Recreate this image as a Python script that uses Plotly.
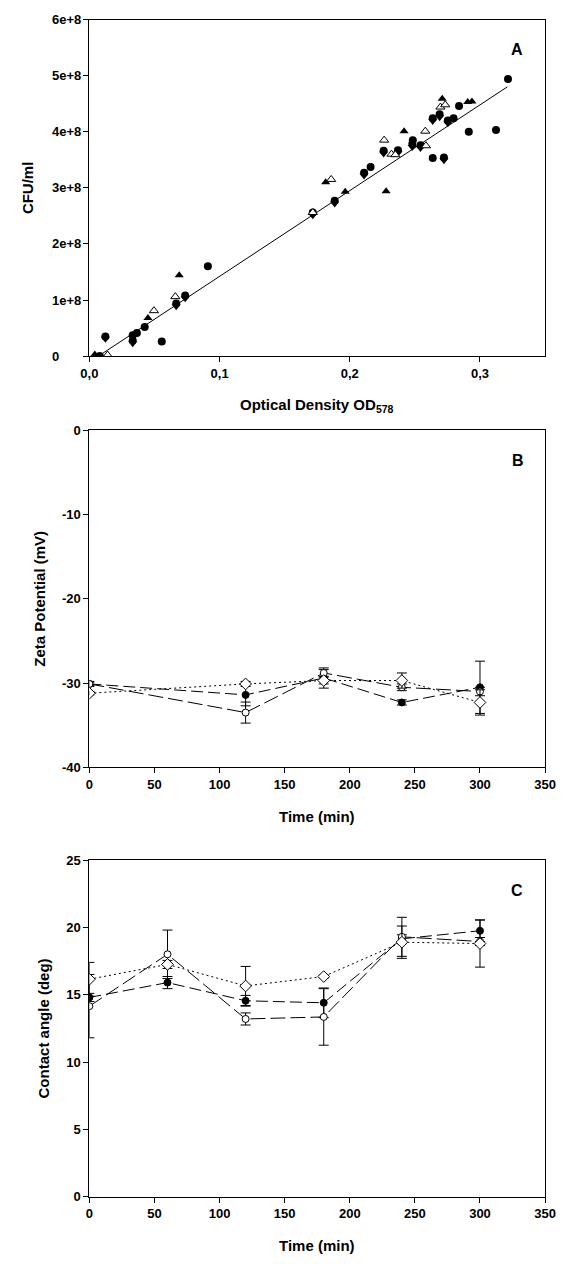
import plotly.graph_objects as go

# ---------------- Panel A: CFU/ml vs optical density ----------------
circ_x = [0.008, 0.0333, 0.0365, 0.0425, 0.0556, 0.091, 0.216, 0.2484, 0.2637,
          0.2797, 0.2839, 0.2914, 0.3123, 0.3215,
          0.0123, 0.0333, 0.0667, 0.0736, 0.1716, 0.1884, 0.211, 0.226, 0.237,
          0.248, 0.2543, 0.2637, 0.269, 0.2723, 0.2753]
circ_y = [0.0, 0.37e8, 0.41e8, 0.52e8, 0.26e8, 1.60e8, 3.37e8, 3.85e8, 3.53e8,
          4.24e8, 4.46e8, 4.00e8, 4.03e8, 4.94e8,
          0.35e8, 0.28e8, 0.94e8, 1.08e8, 2.56e8, 2.77e8, 3.27e8, 3.66e8, 3.67e8,
          3.78e8, 3.76e8, 4.24e8, 4.31e8, 3.54e8, 4.20e8]

tdown_x = [0.0123, 0.0333, 0.0667, 0.0736, 0.1716, 0.1884, 0.211, 0.226, 0.237,
           0.248, 0.2543, 0.2637, 0.269, 0.2723, 0.2753]
tdown_y = [0.31e8, 0.23e8, 0.89e8, 1.03e8, 2.51e8, 2.72e8, 3.22e8, 3.61e8, 3.62e8,
           3.73e8, 3.71e8, 4.19e8, 4.26e8, 3.49e8, 4.15e8]

tup_x = [0.0042, 0.045, 0.069, 0.1815, 0.1965, 0.2279, 0.2417, 0.271, 0.2906, 0.2938]
tup_y = [0.03e8, 0.68e8, 1.44e8, 3.10e8, 2.93e8, 2.94e8, 4.01e8, 4.59e8, 4.53e8, 4.54e8]

topen_x = [0.014, 0.0496, 0.066, 0.1716, 0.1857, 0.2264, 0.232, 0.235, 0.258,
           0.2585, 0.2696, 0.2733]
topen_y = [0.02e8, 0.81e8, 1.06e8, 2.56e8, 3.15e8, 3.85e8, 3.60e8, 3.59e8, 4.01e8,
           3.75e8, 4.44e8, 4.48e8]

fit_x = [0.007, 0.321]
fit_y = [0.0, 4.80e8]

od_ticks = [0, 0.1, 0.2, 0.3]
od_ticktext = ["0,0", "0,1", "0,2", "0,3"]
cfu_ticks = [0, 1e8, 2e8, 3e8, 4e8, 5e8, 6e8]
cfu_ticktext = ["0", "1e+8", "2e+8", "3e+8", "4e+8", "5e+8", "6e+8"]

# ---------------- Panels B and C: time courses ----------------
time_b = [0, 120, 180, 240, 300]
zeta_filled = [-30.1, -31.4, -29.4, -32.3, -30.5]
zeta_filled_err = [0.3, 1.3, 1.2, 0.3, 3.1]
zeta_open = [-30.1, -33.5, -28.8, -30.5, -31.0]
zeta_open_err = [0.2, 1.25, 0.4, 0.4, 0.5]
zeta_diamond = [-31.2, -30.1, -29.7, -29.7, -32.3]
zeta_diamond_err = [0.2, 0.3, 0.4, 0.9, 1.5]

time_c = [0, 60, 120, 180, 240, 300]
angle_filled = [14.8, 15.9, 14.55, 14.4, 19.15, 19.75]
angle_filled_err = [0.3, 0.45, 0.4, 1.1, 0.3, 0.8]
angle_open = [14.15, 18.0, 13.2, 13.35, 19.3, 18.95]
angle_open_err = [2.35, 1.8, 0.45, 2.1, 1.45, 0.3]
angle_diamond = [16.15, 17.25, 15.65, 16.35, 18.9, 18.8]
angle_diamond_err = [1.25, 0.3, 1.45, 0.1, 1.2, 1.75]

time_ticks = [0, 50, 100, 150, 200, 250, 300, 350]
zeta_ticks = [0, -10, -20, -30, -40]
zeta_ticktext = ["0", "-10", "-20", "-30", "-40"]
angle_ticks = [0, 5, 10, 15, 20, 25]

W, H = 567, 1264
FONT = "Liberation Sans, Arial, sans-serif"
TICK_SIZE = 13
TITLE_SIZE = 15

fig = go.Figure()

# Panel A traces
fig.add_trace(go.Scatter(x=fit_x, y=fit_y, mode="lines",
                         line=dict(color="black", width=1),
                         xaxis="x", yaxis="y", showlegend=False))
fig.add_trace(go.Scatter(x=tdown_x, y=tdown_y, mode="markers",
                         marker=dict(symbol="triangle-down", size=8, color="black"),
                         xaxis="x", yaxis="y", showlegend=False))
fig.add_trace(go.Scatter(x=circ_x, y=circ_y, mode="markers",
                         marker=dict(symbol="circle", size=8, color="black"),
                         xaxis="x", yaxis="y", showlegend=False))
fig.add_trace(go.Scatter(x=tup_x, y=tup_y, mode="markers",
                         marker=dict(symbol="triangle-up", size=8, color="black"),
                         xaxis="x", yaxis="y", showlegend=False))
fig.add_trace(go.Scatter(x=topen_x, y=topen_y, mode="markers",
                         marker=dict(symbol="triangle-up", size=8, color="white",
                                     line=dict(color="black", width=1)),
                         xaxis="x", yaxis="y", showlegend=False))


def series(x, y, err, symbol, fill, dash, xa, ya, size=7):
    return go.Scatter(
        x=x, y=y, mode="lines+markers",
        line=dict(color="black", width=1, dash=dash),
        marker=dict(symbol=symbol, size=size, color=fill,
                    line=dict(color="black", width=1)),
        error_y=dict(type="data", array=err, visible=True, color="black",
                     thickness=1, width=5),
        xaxis=xa, yaxis=ya, showlegend=False)


# Panel B
fig.add_trace(series(time_b, zeta_filled, zeta_filled_err, "circle", "black", "12px,5px", "x2", "y2"))
fig.add_trace(series(time_b, zeta_open, zeta_open_err, "circle", "white", "15px,5px", "x2", "y2"))
fig.add_trace(series(time_b, zeta_diamond, zeta_diamond_err, "diamond", "white", "2px,3px", "x2", "y2", size=9))

# Panel C
fig.add_trace(series(time_c, angle_filled, angle_filled_err, "circle", "black", "12px,5px", "x3", "y3"))
fig.add_trace(series(time_c, angle_open, angle_open_err, "circle", "white", "15px,5px", "x3", "y3"))
fig.add_trace(series(time_c, angle_diamond, angle_diamond_err, "diamond", "white", "2px,3px", "x3", "y3", size=9))

x_dom = [83.3 / W, 555.7 / W]


def ydom(top_px, bottom_px):
    return [1 - bottom_px / H, 1 - top_px / H]


axis_style = dict(showline=True, linecolor="black", linewidth=1, mirror=True,
                  ticks="outside", ticklen=5, tickcolor="black", tickwidth=1,
                  showgrid=False, zeroline=False,
                  tickfont=dict(family=FONT, size=TICK_SIZE, color="black", weight="bold"))

fig.update_layout(
    width=W, height=H, margin=dict(l=0, r=0, t=0, b=0),
    paper_bgcolor="white", plot_bgcolor="white",
    font=dict(family=FONT, color="black"),
    xaxis=dict(domain=x_dom, range=[0, 0.35], tickvals=od_ticks, ticktext=od_ticktext,
               anchor="y", **axis_style),
    yaxis=dict(domain=ydom(12.7, 353.3), range=[0, 6e8], tickvals=cfu_ticks,
               showticklabels=False, anchor="x", **axis_style),
    xaxis2=dict(domain=x_dom, range=[0, 350], tickvals=time_ticks, anchor="y2", **axis_style),
    yaxis2=dict(domain=ydom(428.3, 769.5), range=[-40, 0], tickvals=zeta_ticks,
                ticktext=zeta_ticktext, anchor="x2", **axis_style),
    xaxis3=dict(domain=x_dom, range=[0, 350], tickvals=time_ticks, anchor="y3", **axis_style),
    yaxis3=dict(domain=ydom(863.3, 1204), range=[0, 25], tickvals=angle_ticks,
                anchor="x3", **axis_style),
)

ann = []
# Left-aligned tick labels on the CFU axis
for v, t in zip(cfu_ticks, cfu_ticktext):
    ann.append(dict(x=43 / W, xref="paper", y=v, yref="y", text=t, showarrow=False,
                    xanchor="left", yanchor="middle",
                    font=dict(family=FONT, size=TICK_SIZE, color="black", weight="bold")))


def label(x_px, y_px, text, size=TITLE_SIZE, angle=0):
    return dict(x=x_px / W, y=1 - y_px / H, xref="paper", yref="paper", text=text,
                showarrow=False, xanchor="center", yanchor="middle", textangle=angle,
                font=dict(family=FONT, size=size, color="black", weight="bold"))


ann += [
    label(319.5, 403, "Optical Density OD<sub>578</sub>"),
    label(20, 183, "CFU/ml", angle=-90),
    label(527, 43, "A", size=16),
    label(319.5, 819, "Time (min)"),
    label(32, 599, "Zeta Potential (mV)", angle=-90),
    label(528, 459, "B", size=16),
    label(319.5, 1253, "Time (min)"),
    label(36, 1034, "Contact angle (deg)", angle=-90),
    label(527, 894, "C", size=16),
]
fig.update_layout(annotations=ann)

fig.write_html("out.html")
